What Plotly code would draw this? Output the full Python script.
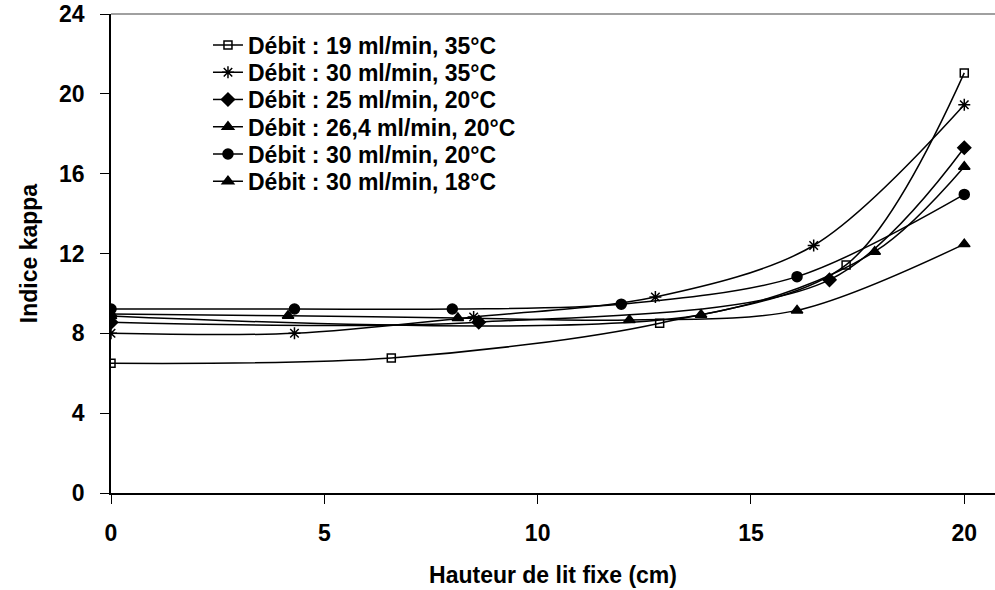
import plotly.graph_objects as go

# Data
x_19_35 = [0, 6.57, 12.86, 17.23, 20]
y_19_35 = [6.5, 6.76, 8.51, 11.43, 21.05]

x_30_35 = [0, 4.3, 8.5, 12.76, 16.47, 20]
y_30_35 = [8.0, 8.0, 8.82, 9.82, 12.4, 19.45]

x_25_20 = [0, 8.62, 16.84, 20]
y_25_20 = [8.55, 8.56, 10.68, 17.3]

x_264_20 = [0, 13.83, 17.9, 20]
y_264_20 = [8.87, 8.93, 12.09, 16.35]

x_30_20 = [0, 4.3, 8.0, 11.96, 16.08, 20]
y_30_20 = [9.22, 9.22, 9.22, 9.46, 10.84, 14.96]

x_30_18 = [0, 4.15, 8.13, 12.15, 16.08, 20]
y_30_18 = [8.97, 8.88, 8.77, 8.67, 9.15, 12.47]

names = [
    "Débit : 19 ml/min, 35°C",
    "Débit : 30 ml/min, 35°C",
    "Débit : 25 ml/min, 20°C",
    "Débit : 26,4 ml/min, 20°C",
    "Débit : 30 ml/min, 20°C",
    "Débit : 30 ml/min, 18°C",
]
xs = [x_19_35, x_30_35, x_25_20, x_264_20, x_30_20, x_30_18]
ys = [y_19_35, y_30_35, y_25_20, y_264_20, y_30_20, y_30_18]
symbols = ["square-open", "asterisk-open", "diamond", "triangle-up", "circle", "triangle-up"]
sizes = [8, 10, 10, 10, 10, 10]

x_ticks = [0, 5, 10, 15, 20]
y_ticks = [0, 4, 8, 12, 16, 20, 24]

FONT = "Arial, Liberation Sans, sans-serif"
FS = 23

W, H = 995, 590
ML, MR, MT = 111, 0, 14
plot_h = 479.5
MB = H - MT - plot_h

fig = go.Figure()
legend_ids = ["legend", "legend2", "legend3", "legend4", "legend5", "legend6"]
for i, (n, x, y, s, sz) in enumerate(zip(names, xs, ys, symbols, sizes)):
    fig.add_trace(go.Scatter(
        x=x, y=y, name=n, mode="lines+markers",
        line=dict(color="black", width=1.5, shape="spline", smoothing=0.9),
        marker=dict(symbol=s, size=sz, color="black",
                    line=dict(color="black", width=1.5)),
        legend=legend_ids[i],
    ))

# one legend box per row so that the row spacing matches the reference
row_first_px = 31.0
row_step_px = 27.3
legend_layout = {}
for i, lid in enumerate(legend_ids):
    off = row_first_px + i * row_step_px
    legend_layout[lid] = dict(
        x=0.1097, y=1 - off / plot_h,
        xanchor="left", yanchor="middle",
        bgcolor="rgba(0,0,0,0)", borderwidth=0,
        font=dict(family=FONT, size=FS, color="black", weight="bold"),
    )

fig.update_layout(
    width=W, height=H,
    margin=dict(l=ML, r=MR, t=MT, b=MB),
    paper_bgcolor="white", plot_bgcolor="white",
    font=dict(family=FONT, color="black", size=FS),
    showlegend=True,
    xaxis=dict(
        range=[0, 20.72], tickmode="array", tickvals=x_ticks,
        showgrid=False, zeroline=False, automargin=False,
        showline=True, linecolor="black", linewidth=1.5,
        ticks="outside", ticklen=9, tickcolor="black", tickwidth=1,
        tickfont=dict(family=FONT, size=FS, color="black", weight="bold"),
        ticklabelstandoff=10,
        title=dict(text="Hauteur de lit fixe (cm)",
                   font=dict(family=FONT, size=FS, color="black", weight="bold"),
                   standoff=22),
    ),
    yaxis=dict(
        range=[0, 24], tickmode="array", tickvals=y_ticks,
        showgrid=False, zeroline=False, automargin=False,
        showline=True, linecolor="black", linewidth=1.5,
        ticks="outside", ticklen=9, tickcolor="black", tickwidth=1,
        tickfont=dict(family=FONT, size=FS, color="black", weight="bold"),
        ticklabelstandoff=11,
        title=dict(text="Indice kappa",
                   font=dict(family=FONT, size=FS, color="black", weight="bold"),
                   standoff=15),
    ),
    shapes=[dict(type="line", xref="paper", yref="paper", x0=0, x1=1, y0=1, y1=1,
                 line=dict(color="#808080", width=1.5))],
    **legend_layout,
)

fig.write_html("out.html",
               config={"displayModeBar": False},
               post_script="document.body.style.margin='0px';document.body.style.overflow='hidden';")
